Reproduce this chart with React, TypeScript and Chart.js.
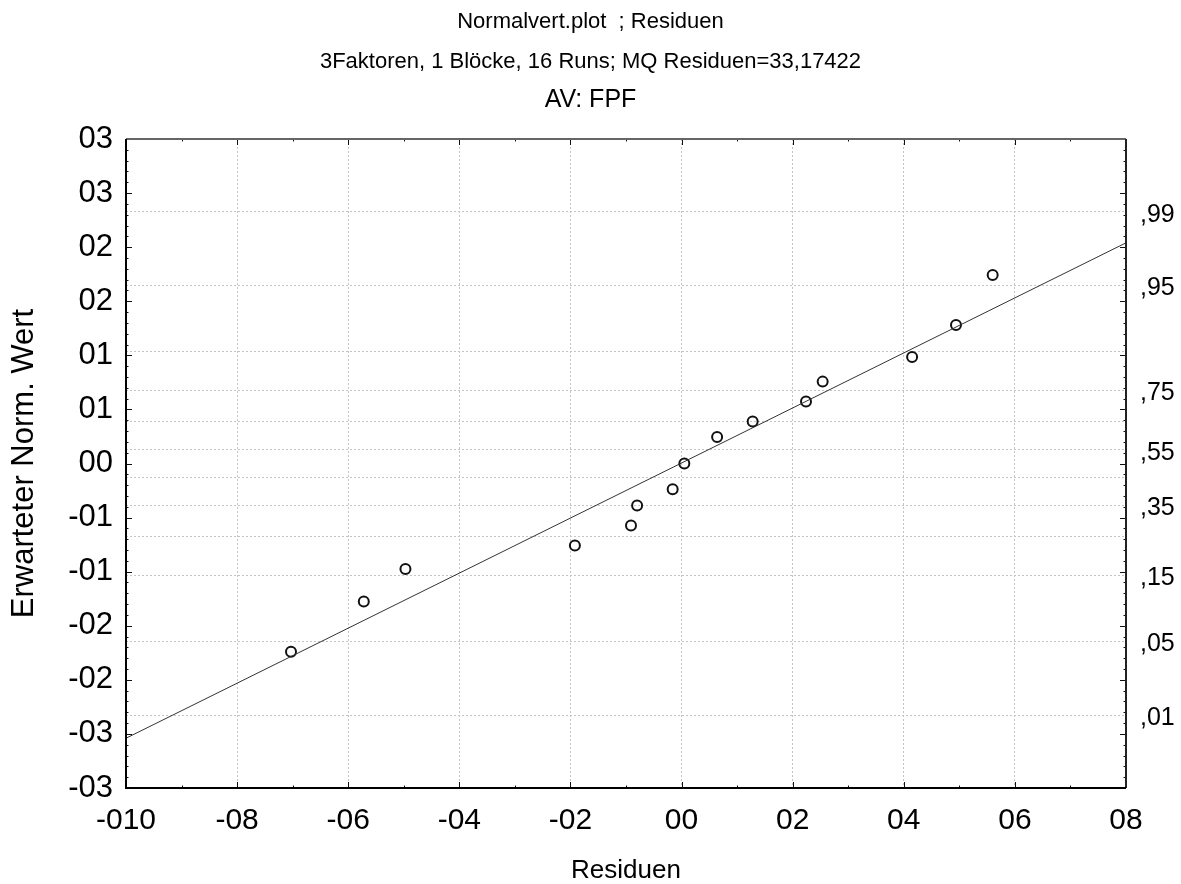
import React, { useEffect, useRef } from 'react';
import { Chart, registerables } from 'chart.js';

Chart.register(...registerables);

// ---- data ----
const residuals = [-7.03, -5.72, -4.97, -1.92, -0.91, -0.8, -0.16, 0.05, 0.64, 1.28, 2.24, 2.54, 4.15, 4.94, 5.6];
const expectedNormal = [-1.74, -1.276, -0.976, -0.758, -0.573, -0.389, -0.237, 0.0, 0.244, 0.388, 0.573, 0.757, 0.984, 1.28, 1.743];
const fitLineX = [-10, 8];
const fitLineY = [-2.54, 2.04];

const xTickLabels = ['-010', '-08', '-06', '-04', '-02', '00', '02', '04', '06', '08'];
const yTickLabels = ['-03', '-03', '-02', '-02', '-01', '-01', '00', '01', '01', '02', '02', '03', '03'];
const probTickValues = [-2.326, -1.645, -1.036, -0.674, -0.385, -0.126, 0.126, 0.385, 0.674, 1.036, 1.645, 2.326];
const probTickLabels = [',01', ',05', ',15', '', ',35', '', ',55', '', ',75', '', ',95', ',99'];

const titleLines = ['Normalvert.plot  ; Residuen', '3Faktoren, 1 Blöcke, 16 Runs; MQ Residuen=33,17422'];
const subtitleText = 'AV: FPF';
const xAxisTitle = 'Residuen';
const yAxisTitle = 'Erwarteter Norm. Wert';

const X_MIN = -10, X_MAX = 8, X_MAJOR = 2, X_MINOR = 1;
const Y_MIN = -3, Y_MAX = 3, Y_MAJOR = 0.5, Y_MINOR = 0.1;

const FONT = "'Liberation Sans', Arial, Helvetica, sans-serif";

const frameTicksPlugin = {
  id: 'frameTicks',
  afterDraw(chart: any) {
    const { ctx, chartArea: a, scales } = chart;
    const xs = scales.x;
    const ys = scales.y;
    ctx.save();
    ctx.strokeStyle = '#111';
    ctx.lineWidth = 1;
    ctx.beginPath();
    const ny = Math.round((Y_MAX - Y_MIN) / Y_MINOR);
    const perY = Math.round(Y_MAJOR / Y_MINOR);
    for (let i = 0; i <= ny; i++) {
      const v = Y_MIN + i * Y_MINOR;
      const p = Math.round(ys.getPixelForValue(v)) + 0.5;
      const len = i % perY === 0 ? 6 : 2.5;
      ctx.moveTo(a.left, p);
      ctx.lineTo(a.left + len, p);
      ctx.moveTo(a.right, p);
      ctx.lineTo(a.right - len, p);
    }
    const nx = Math.round((X_MAX - X_MIN) / X_MINOR);
    const perX = Math.round(X_MAJOR / X_MINOR);
    for (let i = 0; i <= nx; i++) {
      const v = X_MIN + i * X_MINOR;
      const p = Math.round(xs.getPixelForValue(v)) + 0.5;
      const len = i % perX === 0 ? 6 : 2.5;
      ctx.moveTo(p, a.bottom);
      ctx.lineTo(p, a.bottom - len);
      ctx.moveTo(p, a.top);
      ctx.lineTo(p, a.top + len);
    }
    ctx.stroke();

    // frame
    ctx.lineWidth = 2;
    ctx.strokeStyle = '#666';
    ctx.beginPath();
    ctx.moveTo(a.left, a.top);
    ctx.lineTo(a.right, a.top);
    ctx.stroke();
    ctx.strokeStyle = '#222';
    ctx.beginPath();
    ctx.moveTo(a.right, a.top);
    ctx.lineTo(a.right, a.bottom);
    ctx.stroke();
    ctx.strokeStyle = '#000';
    ctx.beginPath();
    ctx.moveTo(a.left, a.top);
    ctx.lineTo(a.left, a.bottom);
    ctx.lineTo(a.right, a.bottom);
    ctx.stroke();
    ctx.restore();
  },
};

export default function App() {
  const canvasRef = useRef<HTMLCanvasElement | null>(null);

  useEffect(() => {
    if (!canvasRef.current) return;
    const points = residuals.map((x, i) => ({ x, y: expectedNormal[i] }));
    const line = fitLineX.map((x, i) => ({ x, y: fitLineY[i] }));
    const gridColor = '#c4c4c4';

    const chart = new Chart(canvasRef.current, {
      type: 'scatter',
      data: {
        datasets: [
          {
            type: 'line',
            data: line,
            borderColor: '#333',
            borderWidth: 1,
            pointRadius: 0,
            fill: false,
            yAxisID: 'y',
          } as any,
          {
            data: points,
            pointRadius: 5,
            pointBorderWidth: 2,
            borderColor: '#111',
            backgroundColor: 'rgba(0,0,0,0)',
            pointBackgroundColor: 'rgba(0,0,0,0)',
            pointBorderColor: '#111',
            yAxisID: 'y',
          },
        ],
      },
      options: {
        responsive: false,
        animation: false,
        layout: { padding: 0 },
        plugins: {
          legend: { display: false },
          tooltip: { enabled: false },
          title: {
            display: true,
            text: titleLines,
            color: '#000',
            font: { family: FONT, size: 22, weight: 'normal', lineHeight: '40px' },
            padding: { top: 2, bottom: 0 },
          },
          subtitle: {
            display: true,
            text: subtitleText,
            color: '#000',
            font: { family: FONT, size: 25, weight: 'normal', lineHeight: '28px' },
            padding: { top: 4, bottom: 25 },
          },
        },
        scales: {
          x: {
            type: 'linear',
            min: X_MIN,
            max: X_MAX,
            afterFit: (s: any) => { s.height = 96; },
            ticks: {
              stepSize: X_MAJOR,
              color: '#000',
              padding: 15,
              maxRotation: 0,
              autoSkip: false,
              font: { family: FONT, size: 30 },
              callback: (_v: any, i: number) => xTickLabels[i],
            },
            grid: { color: gridColor, drawTicks: false, lineWidth: 1 },
            border: { display: false, dash: [2, 2] },
            title: {
              display: true,
              text: xAxisTitle,
              color: '#000',
              font: { family: FONT, size: 26, lineHeight: 1 },
              padding: { top: 0, bottom: 0 },
            },
          },
          y: {
            type: 'linear',
            position: 'left',
            min: Y_MIN,
            max: Y_MAX,
            afterFit: (s: any) => { s.width = 126; },
            ticks: {
              stepSize: Y_MAJOR,
              color: '#000',
              padding: 13,
              autoSkip: false,
              font: { family: FONT, size: 31 },
              callback: (_v: any, i: number) => yTickLabels[i],
            },
            grid: { display: false, drawTicks: false },
            border: { display: false },
            title: {
              display: true,
              text: yAxisTitle,
              color: '#000',
              font: { family: FONT, size: 31, lineHeight: 1 },
              padding: { top: 9, bottom: 0 },
            },
          },
          y2: {
            type: 'linear',
            position: 'right',
            min: Y_MIN,
            max: Y_MAX,
            afterFit: (s: any) => { s.width = 55; },
            afterBuildTicks: (s: any) => {
              s.ticks = probTickValues.map((v) => ({ value: v }));
            },
            ticks: {
              color: '#000',
              padding: 14,
              labelOffset: 3,
              autoSkip: false,
              font: { family: FONT, size: 25 },
              callback: (_v: any, i: number) => probTickLabels[i],
            },
            grid: { color: gridColor, drawTicks: false, lineWidth: 1 },
            border: { display: false, dash: [2, 2] },
          },
        },
      },
      plugins: [frameTicksPlugin],
    } as any);

    return () => chart.destroy();
  }, []);

  return (
    <div style={{ position: 'absolute', left: 0, top: 0, width: 1181, height: 884, background: '#fff' }}>
      <canvas ref={canvasRef} width={1181} height={884} style={{ display: 'block' }} />
    </div>
  );
}
